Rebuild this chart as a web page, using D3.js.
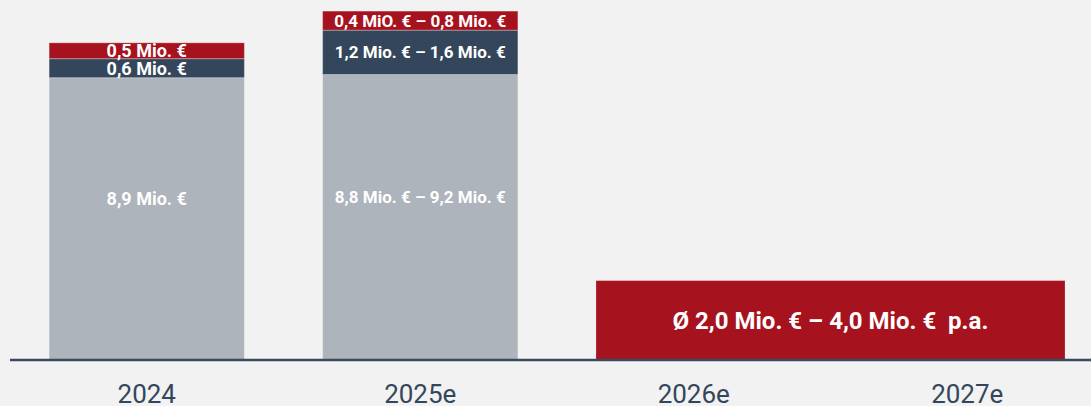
<!DOCTYPE html>
<html>
<head>
<meta charset="utf-8">
<script src="https://cdn.jsdelivr.net/npm/d3@7"></script>
<style>
  html,body{margin:0;padding:0;background:#f2f2f2;}
  svg{display:block;}
</style>
</head>
<body>
<svg id="chart"></svg>
<script>
// data
var years = ["2024", "2025e", "2026e", "2027e"];
var baseValues = [8.9, 9.0];      // grey segment (2025e = middle of range)
var midValues = [0.6, 1.4];       // dark segment
var topValues = [0.5, 0.6];       // red segment
var baseLabels = ["8,9 Mio. €", "8,8 Mio. € – 9,2 Mio. €"];
var midLabels = ["0,6 Mio. €", "1,2 Mio. € – 1,6 Mio. €"];
var topLabels = ["0,5 Mio. €", "0,4 MiO. € – 0,8 Mio. €"];
var outlookValue = 2.5;           // drawn height of the 2026e-2027e block
var outlookLabel = "Ø 2,0 Mio. € – 4,0 Mio. €  p.a.";

var W = 1091, H = 406;
var axisY = 360;
var colGrey = "#adb4bc", colDark = "#34465b", colRed = "#a6121e";

var svg = d3.select("#chart").attr("width", W).attr("height", H);

var x = d3.scaleBand().domain(years).range([10, 1104])
  .paddingInner(0.286).paddingOuter(0.143);
var y = d3.scaleLinear().domain([0, 11.35]).range([axisY, 0]);

// stacked segments for the first two years
var rows = [];
for (var i = 0; i < 2; i++) {
  var b1 = baseValues[i], m1 = b1 + midValues[i], t1 = m1 + topValues[i];
  rows.push({year: years[i], y0: 0, y1: b1, col: colGrey, label: baseLabels[i], kind: "base"});
  rows.push({year: years[i], y0: b1, y1: m1, col: colDark, label: midLabels[i], kind: "mid"});
  rows.push({year: years[i], y0: m1, y1: t1, col: colRed, label: topLabels[i], kind: "top"});
}

svg.selectAll("rect.seg").data(rows).enter().append("rect")
  .attr("class", "seg")
  .attr("x", function(d){ return x(d.year); })
  .attr("width", x.bandwidth())
  .attr("y", function(d){ return y(d.y1); })
  .attr("height", function(d){ return y(d.y0) - y(d.y1); })
  .attr("fill", function(d){ return d.col; })
  .attr("stroke", "rgba(255,255,255,0.3)")
  .attr("stroke-width", 1);

svg.selectAll("text.seglab").data(rows).enter().append("text")
  .attr("class", "seglab")
  .attr("x", function(d){ return x(d.year) + x.bandwidth() / 2; })
  .attr("y", function(d){
    var c = (y(d.y0) + y(d.y1)) / 2;
    if (d.kind == "base") c = c - 20;
    return c;
  })
  .attr("dy", "0.36em")
  .attr("text-anchor", "middle")
  .attr("fill", "#ffffff")
  .style("font-family", "Roboto, sans-serif")
  .style("font-weight", "bold")
  .style("font-size", function(d){ return d.label.length > 12 ? "17px" : "18px"; })
  .text(function(d){ return d.label; });

// outlook block across 2026e and 2027e
var ox0 = x("2026e"), ox1 = x("2027e") + x.bandwidth();
svg.append("rect")
  .attr("x", ox0)
  .attr("width", ox1 - ox0)
  .attr("y", y(outlookValue))
  .attr("height", axisY - y(outlookValue))
  .attr("fill", colRed);

svg.append("text")
  .attr("x", (ox0 + ox1) / 2)
  .attr("y", (y(outlookValue) + axisY) / 2)
  .attr("dy", "0.36em")
  .attr("text-anchor", "middle")
  .attr("fill", "#ffffff")
  .attr("xml:space", "preserve")
  .style("font-family", "Roboto, sans-serif")
  .style("font-weight", "bold")
  .style("font-size", "24px")
  .style("white-space", "pre")
  .text(outlookLabel);

// x axis
var xAxis = svg.append("g")
  .attr("transform", "translate(0," + axisY + ")")
  .call(d3.axisBottom(x).tickSize(0));
xAxis.select(".domain")
  .attr("d", "M10,0H" + W)
  .attr("stroke", "#3a4a5e")
  .attr("stroke-width", 2.5);
xAxis.selectAll("text")
  .attr("y", 43)
  .attr("dy", 0)
  .attr("fill", "#34465b")
  .style("font-family", "Roboto, sans-serif")
  .style("font-size", "26px");
</script>
</body>
</html>
